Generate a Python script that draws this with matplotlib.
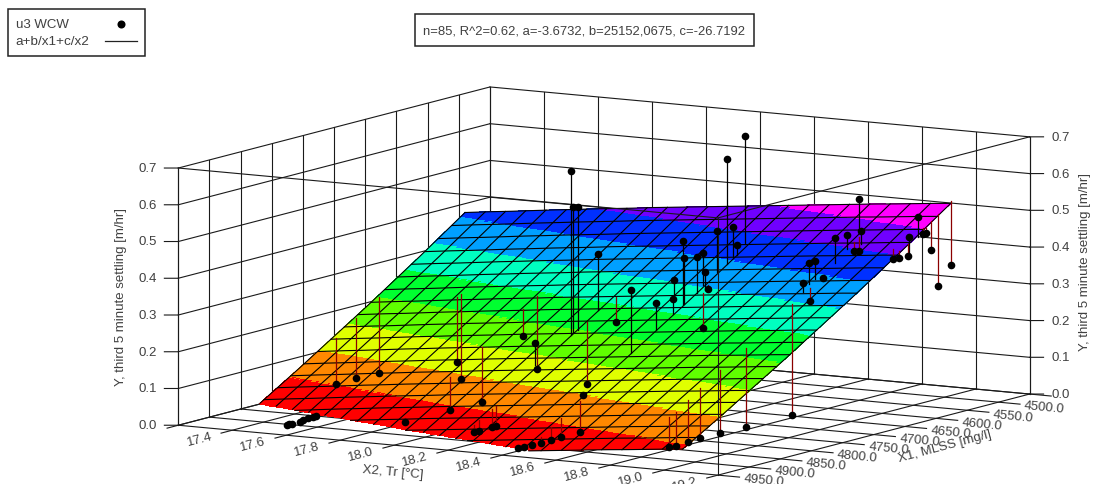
import numpy as np
import matplotlib
matplotlib.use("Agg")
import matplotlib.pyplot as plt
from matplotlib.lines import Line2D
from matplotlib.patches import Rectangle

plt.rcParams['font.family'] = ['Liberation Sans', 'DejaVu Sans']

# axis ticks
x2_ticks = [17.2, 17.4, 17.6, 17.8, 18.0, 18.2, 18.4, 18.6, 18.8, 19.0, 19.2]
x1_ticks = [4500, 4550, 4600, 4650, 4700, 4750, 4800, 4850, 4900, 4950, 5000]
y_ticks = [0.0, 0.1, 0.2, 0.3, 0.4, 0.5, 0.6, 0.7]

# fitted surface mesh
x2_grid = [17.2, 17.275, 17.35, 17.425, 17.5, 17.575, 17.65, 17.725, 17.8, 17.875, 17.95, 18.025, 18.1,
           18.175, 18.25, 18.325, 18.4, 18.475, 18.55, 18.625, 18.7, 18.775, 18.85, 18.925, 19.0]
x1_grid = [4540, 4561.5, 4583, 4604.5, 4626, 4647.5, 4669, 4690.5, 4712, 4733.5, 4755, 4776.5, 4798,
           4819.5, 4841, 4862.5, 4884, 4905.5, 4927, 4948.5, 4970]
y_grid = [
    [.376, .383, .389, .396, .403, .409, .416, .422, .428, .435, .441, .447, .453, .459, .465, .471, .477, .483, .489, .495, .501, .506, .512, .518, .523],
    [.350, .357, .363, .370, .377, .383, .390, .396, .402, .409, .415, .421, .427, .433, .439, .445, .451, .457, .463, .469, .475, .480, .486, .492, .497],
    [.324, .331, .337, .344, .351, .357, .364, .370, .376, .383, .389, .395, .401, .407, .413, .419, .425, .431, .437, .443, .449, .454, .460, .466, .471],
    [.298, .305, .311, .318, .325, .331, .338, .344, .350, .357, .363, .369, .375, .381, .387, .393, .399, .405, .411, .417, .423, .428, .434, .440, .445],
    [.273, .280, .286, .293, .300, .306, .313, .319, .325, .332, .338, .344, .350, .356, .362, .368, .374, .380, .386, .392, .398, .403, .409, .415, .420],
    [.248, .255, .261, .268, .275, .281, .288, .294, .300, .307, .313, .319, .325, .331, .337, .343, .349, .355, .361, .367, .373, .378, .384, .390, .395],
    [.223, .230, .236, .243, .250, .256, .263, .269, .275, .282, .288, .294, .300, .306, .312, .318, .324, .330, .336, .342, .348, .353, .359, .365, .370],
    [.198, .205, .211, .218, .225, .231, .238, .244, .250, .257, .263, .269, .275, .281, .287, .293, .299, .305, .311, .317, .323, .328, .334, .340, .345],
    [.174, .181, .187, .194, .201, .207, .214, .220, .226, .233, .239, .245, .251, .257, .263, .269, .275, .281, .287, .293, .299, .304, .310, .316, .321],
    [.150, .157, .163, .170, .177, .183, .190, .196, .202, .209, .215, .221, .227, .233, .239, .245, .251, .257, .263, .269, .275, .280, .286, .292, .297],
    [.126, .133, .139, .146, .153, .159, .166, .172, .178, .185, .191, .197, .203, .209, .215, .221, .227, .233, .239, .245, .251, .256, .262, .268, .273],
    [.102, .109, .115, .122, .129, .135, .142, .148, .154, .161, .167, .173, .179, .185, .191, .197, .203, .209, .215, .221, .227, .232, .238, .244, .249],
    [.078, .085, .091, .098, .105, .111, .118, .124, .130, .137, .143, .149, .155, .161, .167, .173, .179, .185, .191, .197, .203, .208, .214, .220, .225],
    [.055, .062, .068, .075, .082, .088, .095, .101, .107, .114, .120, .126, .132, .138, .144, .150, .156, .162, .168, .174, .180, .185, .191, .197, .202],
    [.032, .039, .045, .052, .059, .065, .072, .078, .084, .091, .097, .103, .109, .115, .121, .127, .133, .139, .145, .151, .157, .162, .168, .174, .179],
    [.009, .016, .022, .029, .036, .042, .049, .055, .061, .068, .074, .080, .086, .092, .098, .104, .110, .116, .122, .128, .134, .139, .145, .151, .156],
    [-.014, -.007, -.001, .006, .013, .019, .026, .032, .038, .045, .051, .057, .063, .069, .075, .081, .087, .093, .099, .105, .111, .116, .122, .128, .133],
    [-.037, -.030, -.024, -.017, -.010, -.004, .003, .009, .015, .022, .028, .034, .040, .046, .052, .058, .064, .070, .076, .082, .088, .093, .099, .105, .110],
    [-.059, -.052, -.046, -.039, -.032, -.026, -.019, -.013, -.007, .000, .006, .012, .018, .024, .030, .036, .042, .048, .054, .060, .066, .071, .077, .083, .088],
    [-.081, -.074, -.068, -.061, -.054, -.048, -.041, -.035, -.029, -.022, -.016, -.010, -.004, .002, .008, .014, .020, .026, .032, .038, .044, .049, .055, .061, .066],
    [-.103, -.096, -.090, -.083, -.076, -.070, -.063, -.057, -.051, -.044, -.038, -.032, -.026, -.020, -.014, -.008, -.002, .004, .010, .016, .022, .027, .033, .039, .044],
]

band_step = 0.0525
band_colors = ['#ff0000', '#ff8800', '#e0ff00', '#60ff00', '#00ff30',
               '#00ffc0', '#00a0ff', '#0030ff', '#7000ff', '#ff00ff']

# measured points: X2, X1, Y and the fitted Y under/over each point
x2_pts = [18.756, 18.823, 18.79, 18.798, 18.789, 18.788, 19.04, 19.014, 18.993, 19.005, 18.968, 18.996, 19.001,
          18.996, 18.99, 18.994, 18.788, 18.794, 18.801, 18.798, 18.805, 18.393, 18.397, 18.331, 18.395, 18.392,
          18.398, 18.388, 18.416, 18.407, 18.421, 18.393, 18.393, 18.396, 18.394, 18.385, 18.092, 18.091, 18.098,
          18.093, 18.39, 18.108, 17.805, 18.077, 17.806, 17.508, 17.511, 17.804, 17.804, 18.10, 18.371, 18.392,
          18.388, 18.386, 18.389, 18.377, 18.376, 18.37, 18.094, 18.091, 18.086, 18.087, 17.799, 17.216, 17.211,
          17.214, 17.495, 17.493, 17.495, 17.499, 17.489, 17.481, 17.484, 17.482, 18.792, 18.798, 18.795, 18.792,
          18.795, 18.804, 18.805]
x1_pts = [4582, 4608, 4616, 4639, 4604, 4596, 4624, 4598, 4582, 4582, 4618, 4621, 4609, 4570, 4536, 4558, 4676,
          4668, 4659, 4690, 4681, 4707, 4707, 4695, 4723, 4750, 4687, 4673, 4682, 4673, 4687, 4652, 4627, 4622,
          4637, 4604, 4756, 4752, 4747, 4713, 4789, 4691, 4709, 4807, 4687, 4686, 4681, 4774, 4825, 4734, 4857,
          4871, 4900, 4916, 4933, 4942, 4954, 4961, 4877, 4882, 4901, 4910, 4895, 4754, 4720, 4684, 4954, 4949,
          4945, 4935, 4925, 4913, 4907, 4901, 4902, 4893, 4873, 4852, 4822, 4784, 4710]
y_pts = [.536, .466, .455, .458, .406, .405, .47, .513, .458, .46, .403, .409, .41, .409, .354, .307, .405, .408,
         .36, .358, .307, .452, .407, .338, .303, .304, .402, .404, .36, .309, .21, .456, .455, .406, .645, .693,
         .645, .544, .543, .401, .355, .207, .156, .198, .056, .054, .006, .005, .005, .055, .099, .005, .004,
         .002, .003, 0, 0, 0, .003, .003, .001, .002, .003, .004, .005, .003, 0, 0, 0, 0, 0, 0, 0, 0, .006, .004,
         .006, .008, .008, .008, .009]
y_fit = [.454, .430, .417, .392, .431, .441, .429, .458, .474, .474, .430, .428, .443, .488, .526, .501, .348, .359,
         .368, .333, .343, .280, .281, .289, .262, .230, .304, .319, .311, .320, .306, .344, .373, .379, .361, .398,
         .199, .202, .209, .248, .185, .275, .230, .138, .256, .232, .238, .155, .095, .225, .104, .090, .056, .038,
         .019, 0, 0, 0, .058, .052, .031, .021, .014, .130, .169, .211, 0, 0, 0, 0, 0, 0, 0, 0, .088, .097, .121,
         .145, .180, .224, .310]

W, H = 1093, 485
txt = '#404040'
fs = 9.5
x2a, x2b = x2_ticks[0], x2_ticks[-1]
x1a, x1b = x1_ticks[-1], x1_ticks[0]
top = y_ticks[-1]

fig = plt.figure(figsize=(W / 100, H / 100), dpi=100)
S = 1100
ax = fig.add_axes([39.1 / W, -361.9 / H, S / W, S / H], projection='3d', proj_type='ortho')
ax.computed_zorder = False
ax.set_axis_off()
ax.view_init(elev=8.92, azim=-59.2)
ax.set_box_aspect((628.6, 609, 260.5), zoom=886 / S)


def line3(xs, ys, zs, color='#1a1a1a', lw=0.8, z=1):
    ax.plot(xs, ys, zs, color=color, lw=lw, zorder=z)


# walls and floor
for t in x2_ticks:
    line3([t, t], [x1b, x1b], [0, top])
    line3([t, t], [x1a + 18, x1b], [0, 0])
for t in x1_ticks:
    line3([x2a, x2a], [t, t], [0, top])
    line3([x2a, x2b + 0.08], [t, t], [0, 0])
for t in y_ticks:
    line3([x2a, x2a], [x1a, x1b], [t, t])
    line3([x2a, x2b], [x1b, x1b], [t, t])
    # short horizontal ticks on both side axes
    line3([x2a - 0.038, x2a], [x1a + 5.9, x1a], [t, t])
    line3([x2b, x2b + 0.038], [x1b, x1b - 5.9], [t, t])
line3([x2b, x2b], [x1b, x1b], [0, top])

# surface, refined only so the colour bands have smooth edges
n = 10
y_grid = np.array(y_grid)
i2 = np.linspace(0, len(x2_grid) - 1, (len(x2_grid) - 1) * n + 1)
i1 = np.linspace(0, len(x1_grid) - 1, (len(x1_grid) - 1) * n + 1)
x2_f = np.interp(i2, np.arange(len(x2_grid)), x2_grid)
x1_f = np.interp(i1, np.arange(len(x1_grid)), x1_grid)
tmp = np.array([np.interp(i2, np.arange(len(x2_grid)), r) for r in y_grid])
y_f = np.array([np.interp(i1, np.arange(len(x1_grid)), c) for c in tmp.T]).T
y_f[y_f < 0] = np.nan

band = np.clip(np.nan_to_num(y_f / band_step).astype(int), 0, len(band_colors) - 1)
rgba = np.array([matplotlib.colors.to_rgba(c) for c in band_colors])[band]
XX, YY = np.meshgrid(x2_f, x1_f)
ax.plot_surface(XX, YY, y_f, facecolors=rgba, rstride=1, cstride=1, shade=False,
                antialiased=False, linewidth=0, zorder=2)

# surface mesh
for r in range(0, len(x1_f), n):
    line3(x2_f, np.full(len(x2_f), x1_f[r]), y_f[r], color='k', z=3)
for c in range(0, len(x2_f), n):
    line3(np.full(len(x1_f), x2_f[c]), x1_f, y_f[:, c], color='k', z=3)

# front box edges run over the surface
line3([x2a, x2b], [x1a, x1a], [top, top], z=3)
line3([x2b, x2b], [x1a, x1b], [top, top], z=3)
line3([x2b, x2b], [x1a, x1a], [0, top], z=3)
line3([x2a, x2a], [x1a, x1a], [0, top], z=3)

# residual stems and points
for a, b, y, f in zip(x2_pts, x1_pts, y_pts, y_fit):
    line3([a, a], [b, b], [y, f], color='k' if y > f else '#8b0000', lw=0.9, z=4)
ax.plot(x2_pts, x1_pts, y_pts, ls='none', marker='o', color='k', ms=5.5, mew=0, zorder=5)

# tick labels, zdir sets the text direction in 3d
for t in x2_ticks[1:]:
    ax.text(t, x1a + 53, 0, f'{t:.1f}', zdir=(0, -1, 0), color=txt, fontsize=fs,
            ha='center', va='center', rotation_mode='anchor')
for t in x1_ticks[:-1]:
    ax.text(x2b + 0.18, t + 54, 0, f'{t:.1f}', zdir=(1, 0, 0), color=txt, fontsize=fs,
            ha='center', va='center', rotation_mode='anchor')
for t in y_ticks:
    ax.text(x2a - 0.06, x1a + 9, t, f'{t:.1f}', color=txt, fontsize=fs, ha='right', va='center')
    ax.text(x2b + 0.06, x1b - 9, t, f'{t:.1f}', color=txt, fontsize=fs, ha='left', va='center')

ax.set_xlim(x2a, x2b, view_margin=0)
ax.set_ylim(x1a, x1b, view_margin=0)
ax.set_zlim(0, top, view_margin=0)


def ftext(x, y, s, size=fs, **kw):
    fig.text(x / W, 1 - y / H, s, color=txt, fontsize=size, **kw)


ftext(393, 473, 'X2, Tr [°C]', rotation=-5, ha='center', va='center', rotation_mode='anchor')
ftext(945, 447, 'X1, MLSS [mg/l]', rotation=15, ha='center', va='center', rotation_mode='anchor')
ftext(121, 297, 'Y, third 5 minute settling [m/hr]', rotation=90, ha='center', va='center')
ftext(1085, 262, 'Y, third 5 minute settling [m/hr]', rotation=90, ha='center', va='center')


def fbox(x0, y0, x1, y1):
    fig.add_artist(Rectangle((x0 / W, 1 - y1 / H), (x1 - x0) / W, (y1 - y0) / H, transform=fig.transFigure,
                             fill=False, edgecolor='#222222', lw=1.1))


# legend and parameter box
fbox(7.5, 9.5, 145, 57)
ftext(15.5, 25, 'u3 WCW', va='center')
ftext(15.5, 42, 'a+b/x1+c/x2', size=9.7, va='center')
fig.add_artist(Line2D([121 / W], [1 - 25 / H], marker='o', color='k', ms=5.8, mew=0, ls='none',
                      transform=fig.transFigure))
fig.add_artist(Line2D([105 / W, 137 / W], [1 - 42 / H] * 2, color='#222222', lw=0.9, transform=fig.transFigure))

fbox(415, 15, 754, 47)
ftext(423, 32, 'n=85, R^2=0.62, a=-3.6732, b=25152,0675, c=-26.7192', size=9.4, va='center')

fig.savefig('out.png', dpi=100)
